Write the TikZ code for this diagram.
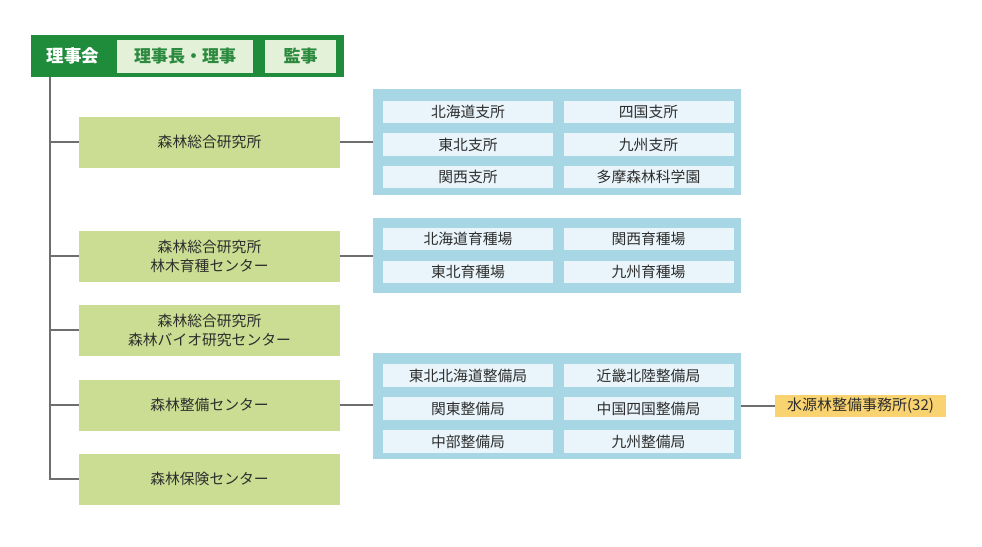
\documentclass[tikz,border=0pt]{standalone}
\usepackage{fontspec}
\setmainfont{Noto Sans CJK JP}
\definecolor{dkgreen}{HTML}{1F8C3B}
\definecolor{ltgreen}{HTML}{E2F1D8}
\definecolor{txgreen}{HTML}{2C8A3E}
\definecolor{boxgreen}{HTML}{CADD92}
\definecolor{panelblue}{HTML}{A7D6E4}
\definecolor{cellblue}{HTML}{E9F5FA}
\definecolor{orangebox}{HTML}{F9D36F}
\definecolor{linegray}{HTML}{6E6E6E}
\definecolor{txdark}{HTML}{2E2E2E}
\tikzset{
  topcell/.style={fill=ltgreen, inner sep=0pt, text=txgreen, font=\fontsize{17}{19}\selectfont\bfseries},
  unitbox/.style={fill=boxgreen, minimum width=261pt, minimum height=51pt, inner sep=0pt, align=center, text=txdark, font=\fontsize{14.8}{19}\selectfont},
  panel/.style={fill=panelblue, minimum width=368pt, inner sep=0pt},
  cell/.style={fill=cellblue, minimum width=170pt, minimum height=22.5pt, inner sep=0pt, text=txdark, font=\fontsize{14.8}{16}\selectfont},
  conn/.style={draw=linegray, line width=2pt},
}
\begin{document}
\begin{tikzpicture}[x=1pt,y=-1pt]
\useasboundingbox (0,0) rectangle (982,546);
\fill[white] (0,0) rectangle (982,546);
% top bar
\node[fill=dkgreen, minimum width=313pt, minimum height=42pt, inner sep=0pt] (bar) at (187.5,56) {};
\node[text=white, font=\fontsize{17.5}{19}\selectfont\bfseries] (rijikai) at (73,56) {理事会};
\node[topcell, minimum width=136pt, minimum height=33pt] (richo) at (185,56.5) {理事長・理事};
\node[topcell, minimum width=71pt, minimum height=33pt] (kanji) at (300.5,56.5) {監事};
% units
\node[unitbox] (u1) at (209.5,142) {森林総合研究所};
\node[unitbox] (u2) at (209.5,256) {森林総合研究所\\林木育種センター};
\node[unitbox] (u3) at (209.5,330) {森林総合研究所\\森林バイオ研究センター};
\node[unitbox] (u4) at (209.5,405) {森林整備センター};
\node[unitbox] (u5) at (209.5,479) {森林保険センター};
% trunk
\coordinate (trunkend) at (50,479);
\draw[conn] (bar.south -| trunkend) -- (trunkend) -- (u5.west);
\draw[conn] (u1.west -| trunkend) -- (u1.west);
\draw[conn] (u2.west -| trunkend) -- (u2.west);
\draw[conn] (u3.west -| trunkend) -- (u3.west);
\draw[conn] (u4.west -| trunkend) -- (u4.west);
% panel 1
\node[panel, minimum height=106pt] (p1) at (557,142) {};
\node[cell] (c11) at (468,112) {北海道支所};
\node[cell] (c12) at (648.5,112) {四国支所};
\node[cell] (c13) at (468,144.5) {東北支所};
\node[cell] (c14) at (648.5,144.5) {九州支所};
\node[cell] (c15) at (468,177) {関西支所};
\node[cell] (c16) at (648.5,177) {多摩森林科学園};
% panel 2
\node[panel, minimum height=75pt] (p2) at (557,255.5) {};
\node[cell] (c21) at (468,239) {北海道育種場};
\node[cell] (c22) at (648.5,239) {関西育種場};
\node[cell] (c23) at (468,272) {東北育種場};
\node[cell] (c24) at (648.5,272) {九州育種場};
% panel 3
\node[panel, minimum height=106pt] (p3) at (557,406) {};
\node[cell] (c31) at (468,375.5) {東北北海道整備局};
\node[cell] (c32) at (648.5,375.5) {近畿北陸整備局};
\node[cell] (c33) at (468,408.5) {関東整備局};
\node[cell] (c34) at (648.5,408.5) {中国四国整備局};
\node[cell] (c35) at (468,441.5) {中部整備局};
\node[cell] (c36) at (648.5,441.5) {九州整備局};
% orange
\node[fill=orangebox, minimum width=171pt, minimum height=22pt, inner sep=0pt, text=txdark, font=\fontsize{15}{16}\selectfont] (sg) at (860.5,406) {水源林整備事務所(32)};
% connectors
\draw[conn] (u1.east) -- (u1.east -| p1.west);
\draw[conn] (u2.east |- p2.west) -- (p2.west);
\draw[conn] (u4.east) -- (u4.east -| p3.west);
\draw[conn] (p3.east |- sg.west) -- (sg.west);
\end{tikzpicture}
\end{document}
